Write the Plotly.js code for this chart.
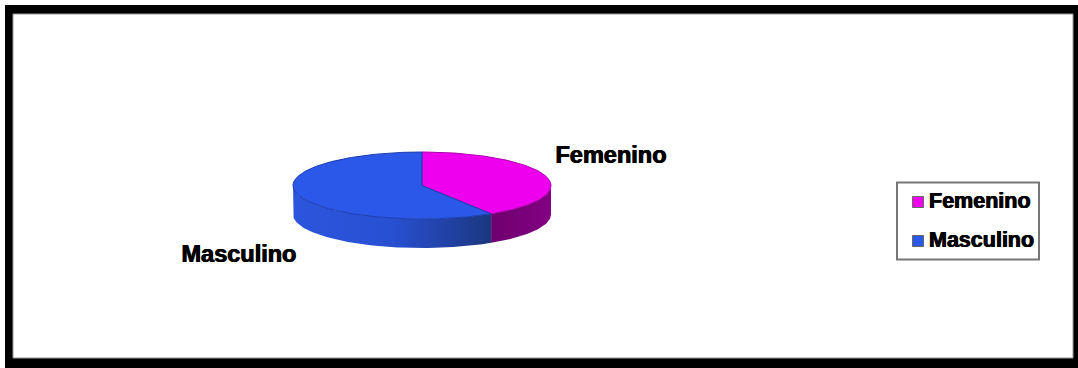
<!DOCTYPE html>
<html>
<head>
<meta charset="utf-8">
<script src="https://cdn.plot.ly/plotly-3.0.1.min.js"></script>
<style>html,body{margin:0;padding:0;background:#fff}#chart{width:1078px;height:368px}</style>
</head>
<body>
<div id="chart"></div>
<script>
// Shares by sex
const categories = ["Femenino", "Masculino"];
const shares = [41, 59];

const topColors = ["#ee00ee", "#2b58e8"];
const edgeColors = ["#b000b0", "#1c3cae"];
const sideScales = [
  [[0, "#6e006e"], [1, "#830083"]],
  [[0, "#2b55dd"], [0.5, "#2850d2"], [1, "#1b3780"]]
];

// Tilted disc geometry, in pixels of the 1078x368 canvas
const disc = {cx: 422, cy: 185.5, rx: 129, ry: 33.5, depth: 29};
const labelAt = [[611, 157], [239, 256]];
const legendBox = {x0: 897, y0: 182.5, x1: 1039, y1: 259.5};
const legendSwatches = [[918, 202], [918, 241]];
const legendTextAt = [[929, 203], [929, 242]];

const heavyText = "0.5px 0 0 #000, -0.5px 0 0 #000";

const total = shares.reduce((a, b) => a + b, 0);
const px = t => disc.cx + disc.rx * Math.sin(t);
const py = (t, drop) => disc.cy - disc.ry * Math.cos(t) + drop;

function arc(a, b, drop) {
  const n = Math.max(2, Math.ceil(Math.abs(b - a) / 0.02));
  const xs = [], ys = [];
  for (let i = 0; i <= n; i++) {
    const t = a + (b - a) * i / n;
    xs.push(px(t));
    ys.push(py(t, drop));
  }
  return [xs, ys];
}

const traces = [];
let start = 0;
categories.forEach((name, i) => {
  const end = start + shares[i] / total * 2 * Math.PI;

  // Visible rim: only the part of the slice facing the viewer
  const a = Math.max(start, Math.PI / 2), b = Math.min(end, 3 * Math.PI / 2);
  if (b > a) {
    const [tx, ty] = arc(a, b, 0);
    const [bx, by] = arc(b, a, disc.depth);
    traces.push({
      type: "scatter", mode: "lines", hoverinfo: "skip", showlegend: false,
      x: tx.concat(bx, [tx[0]]), y: ty.concat(by, [ty[0]]),
      fill: "toself",
      fillgradient: {type: "horizontal", colorscale: sideScales[i]},
      line: {width: 0}
    });
  }
  start = end;
});

start = 0;
categories.forEach((name, i) => {
  const end = start + shares[i] / total * 2 * Math.PI;
  const [ax, ay] = arc(start, end, 0);
  traces.push({
    type: "scatter", mode: "lines", hoverinfo: "skip", showlegend: false,
    x: [disc.cx].concat(ax, [disc.cx]), y: [disc.cy].concat(ay, [disc.cy]),
    fill: "toself", fillcolor: topColors[i],
    line: {width: 1, color: edgeColors[i]}
  });
  start = end;
});

// Category names beside the disc
traces.push({
  type: "scatter", mode: "text", hoverinfo: "skip", showlegend: false,
  x: labelAt.map(p => p[0]), y: labelAt.map(p => p[1]),
  text: categories, textposition: "middle center",
  textfont: {family: "Liberation Sans", size: 23.5, color: "#000", weight: 700, shadow: heavyText}
});

// Key on the right: swatches, then their names
categories.forEach((name, i) => {
  traces.push({
    type: "scatter", mode: "markers", hoverinfo: "skip", showlegend: false,
    x: [legendSwatches[i][0]], y: [legendSwatches[i][1]],
    marker: {symbol: "square", size: 11, color: topColors[i], line: {width: 1, color: "#666"}}
  });
  traces.push({
    type: "scatter", mode: "text", hoverinfo: "skip", showlegend: false,
    x: [legendTextAt[i][0]], y: [legendTextAt[i][1]],
    text: [name], textposition: "middle right",
    textfont: {family: "Liberation Sans", size: 21.5, color: "#000", weight: 700, shadow: heavyText}
  });
});

const layout = {
  width: 1078, height: 368,
  margin: {l: 0, r: 0, t: 0, b: 0},
  paper_bgcolor: "#fff", plot_bgcolor: "rgba(0,0,0,0)",
  showlegend: false,
  xaxis: {range: [0, 1078], visible: false, fixedrange: true},
  yaxis: {range: [368, 0], visible: false, fixedrange: true},
  shapes: [
    {type: "rect", layer: "below", x0: 5, y0: 5, x1: 1078, y1: 368,
     fillcolor: "#000", line: {width: 0}},
    {type: "rect", layer: "below", x0: 13, y0: 14, x1: 1073, y1: 358,
     fillcolor: "#fff", line: {width: 1, color: "#999"}},
    {type: "rect", layer: "below", x0: legendBox.x0, y0: legendBox.y0, x1: legendBox.x1, y1: legendBox.y1,
     fillcolor: "#fff", line: {width: 2, color: "#777"}}
  ]
};

Plotly.newPlot("chart", traces, layout, {displayModeBar: false, staticPlot: true});
</script>
</body>
</html>
